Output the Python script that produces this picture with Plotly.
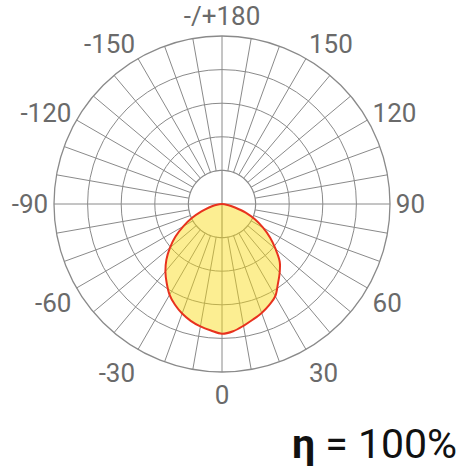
import plotly.graph_objects as go

# Luminous intensity distribution (relative, ring units), theta in degrees
angles = [-90, -85, -80, -75, -70, -65, -60, -55, -50, -45, -40, -35, -30, -25, -20, -15, -10, -5,
          0, 5, 10, 15, 20, 25, 30, 35, 40, 45, 50, 55, 60, 65, 70, 75, 80, 85, 90]
intensity = [0.0, 0.08, 0.22, 0.40, 0.65, 0.99, 1.33, 1.69, 2.02, 2.34, 2.62, 2.87, 3.12, 3.31, 3.47, 3.60, 3.70, 3.78,
             3.86, 3.80, 3.68, 3.56, 3.45, 3.32, 3.17, 2.90, 2.67, 2.43, 2.08, 1.75, 1.41, 1.08, 0.75, 0.40, 0.20, 0.07, 0.0]

tick_angles = list(range(0, 360, 10))
tick_label_map = {0: "0", 30: "30", 60: "60", 90: "90", 120: "120", 150: "150", 180: "-/+180",
                  210: "-150", 240: "-120", 270: "-90", 300: "-60", 330: "-30"}
tick_labels = [tick_label_map.get(a, "") for a in tick_angles]

ring_values = [2, 3, 4]
hole_radius = 1
outer_radius = 5
efficiency_text = "<b>η</b> = 100%"

GRID = "#8a8a8a"
LABEL = "#6a6a6a"

W = H = 470

fig = go.Figure()

# White centre disk (hides spokes inside the hole)
disk_theta = list(range(0, 361, 3))
fig.add_trace(go.Scatterpolar(
    r=[hole_radius] * len(disk_theta), theta=disk_theta, mode="lines",
    fill="toself", fillcolor="white", line=dict(color=GRID, width=1.2),
    hoverinfo="skip", showlegend=False))

# Cross lines through the hole
fig.add_trace(go.Scatterpolar(
    r=[hole_radius, hole_radius, None, hole_radius, hole_radius],
    theta=[0, 180, None, 90, 270], mode="lines",
    line=dict(color=GRID, width=1.2), hoverinfo="skip", showlegend=False))

# Light distribution lobe
fig.add_trace(go.Scatterpolar(
    r=intensity, theta=angles, mode="lines", fill="toself",
    fillcolor="rgba(248, 217, 13, 0.45)",
    line=dict(color="#e8321e", width=2, shape="spline", smoothing=1.0),
    hoverinfo="skip", showlegend=False))

fig.update_layout(
    width=W, height=H,
    margin=dict(l=0, r=0, t=0, b=0),
    paper_bgcolor="white", plot_bgcolor="white",
    font=dict(family="Roboto, Liberation Sans, sans-serif"),
    polar=dict(
        domain=dict(x=[54 / W, 390 / W], y=[1 - 372 / H, 1 - 36 / H]),
        bgcolor="white",
        angularaxis=dict(
            rotation=270, direction="counterclockwise",
            tickmode="array", tickvals=tick_angles, ticktext=tick_labels,
            showgrid=True, gridcolor=GRID, gridwidth=1.2,
            showline=True, linecolor=GRID, linewidth=1.3,
            ticks="", tickfont=dict(size=26, color=LABEL),
        ),
        radialaxis=dict(
            range=[0, outer_radius], tickmode="array", tickvals=ring_values,
            showgrid=True, gridcolor=GRID, gridwidth=1.2,
            showline=False, showticklabels=False, ticks="",
        ),
    ),
    annotations=[dict(
        text=efficiency_text, x=459 / W, y=0,
        xref="paper", yref="paper", xanchor="right", yanchor="bottom",
        showarrow=False, font=dict(size=41, color="#111111"),
    )],
)

fig.write_html("out.html", config={"displayModeBar": False},
               post_script="document.body.style.margin='0px';")
